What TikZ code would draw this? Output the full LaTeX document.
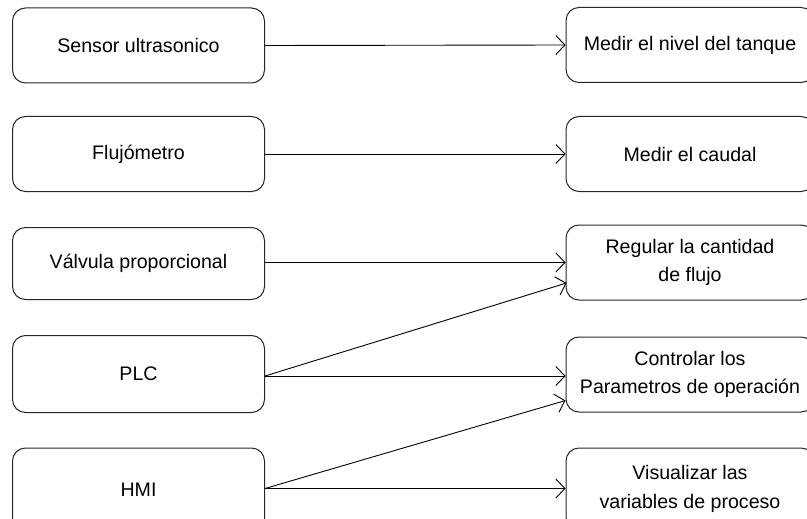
\documentclass[tikz,border=0pt]{standalone}
\usepackage{fontspec}
\setmainfont{Liberation Sans}
\usetikzlibrary{arrows.meta,calc}
\begin{document}
\begin{tikzpicture}[x=1pt,y=-1pt,
  box/.style={draw=black!85,line width=1pt,rounded corners=13pt,
    minimum height=75pt,align=center,inner sep=0pt,
    font=\fontsize{19.6}{28.5}\selectfont},
  srcbox/.style={box,minimum width=252pt},
  dstbox/.style={box,minimum width=248pt},
  link/.style={line width=0.9pt,-{Straight Barb[length=9pt,width=19pt,line width=0.9pt]}}]
\useasboundingbox (0,0) rectangle (807,519);
\clip (0,0) rectangle (807,519);

% devices (left column)
\node[srcbox] (s1) at (138.5,45.5) {Sensor ultrasonico};
\node[srcbox] (s2) at (138.5,154) {Flujómetro};
\node[srcbox,minimum height=72pt] (s3) at (138.5,263.5) {Válvula proporcional};
\node[srcbox,minimum height=77pt] (s4) at (138.5,374) {PLC};
\node[srcbox,minimum height=84pt] (s5) at (138.5,490) {HMI};

% functions (right column)
\node[dstbox] (t1) at (690,45) {Medir el nivel del tanque};
\node[dstbox] (t2) at (690,154) {Medir el caudal};
\node[dstbox] (t3) at (690,262.5) {Regular la cantidad\\de flujo};
\node[dstbox] (t4) at (690,374.5) {Controlar los\\Parametros de operación};
\node[dstbox,minimum height=82pt] (t5) at (690,489) {Visualizar las\\variables de proceso};

% connections
\draw[link] (s1.east) -- (t1.west);
\draw[link] (s2.east) -- (t2.west);
\draw[link] (s3.east |- t3.west) -- (t3.west);
\coordinate (p) at ($(s4.east)+(0,2)$);
\coordinate (h) at ($(s5.east)+(0,-1.5)$);
\draw[link] (p) -- ($(t3.west)+(1,20.5)$);
\draw[link] (p) -- (t4.west |- p);
\draw[link] (h) -- ($(t4.west)+(0,26)$);
\draw[link] (h) -- (t5.west |- h);
\end{tikzpicture}
\end{document}
